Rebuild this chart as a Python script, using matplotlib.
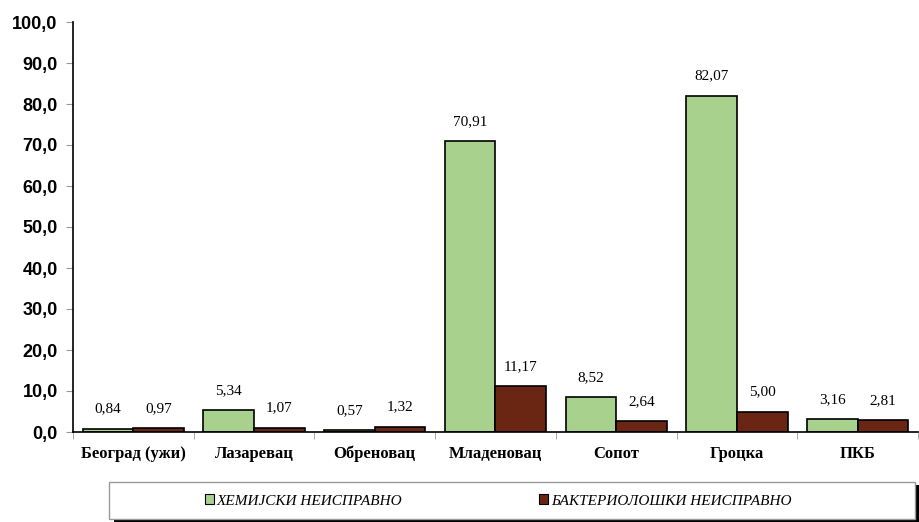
import numpy as np
import matplotlib.pyplot as plt
from matplotlib.patches import Rectangle

categories = ['Београд (ужи)', 'Лазаревац', 'Обреновац', 'Младеновац', 'Сопот', 'Гроцка', 'ПКБ']
chem = [0.84, 5.34, 0.57, 70.91, 8.52, 82.07, 3.16]
bact = [0.97, 1.07, 1.32, 11.17, 2.64, 5.00, 2.81]
series_names = ['ХЕМИЈСКИ НЕИСПРАВНО', 'БАКТЕРИОЛОШКИ НЕИСПРАВНО']

W, H = 920, 522
fig = plt.figure(figsize=(W / 100, H / 100), dpi=100)
ax = fig.add_axes([73 / W, 1 - 432 / H, 845 / W, 410 / H])

x = np.arange(len(categories))
w = 0.42
b1 = ax.bar(x - w / 2, chem, w, color='#A9D18E', edgecolor='black', linewidth=1.2, label=series_names[0])
b2 = ax.bar(x + w / 2, bact, w, color='#6B2513', edgecolor='black', linewidth=1.2, label=series_names[1])

def fmt(v):
    return f'{v:.2f}'.replace('.', ',')

for bars, vals in [(b1, chem), (b2, bact)]:
    for r, v in zip(bars, vals):
        ax.annotate(fmt(v), (r.get_x() + r.get_width() / 2, v), xytext=(0, 14),
                    textcoords='offset points', ha='center', va='center',
                    fontsize=11, family='Liberation Serif')

ax.set_xlim(-0.5, len(categories) - 0.5)
ax.set_ylim(0, 100)
ax.set_yticks(np.arange(0, 101, 10))
ax.set_yticklabels([f'{v:.1f}'.replace('.', ',') for v in np.arange(0, 101, 10)],
                   fontsize=13, fontweight='bold', family='Liberation Sans')
ax.tick_params(axis='y', length=5, color='#999999', pad=6)

ax.set_xticks(x)
ax.set_xticklabels(categories, fontsize=12, fontweight='bold', family='Liberation Serif')
ax.tick_params(axis='x', length=0, pad=10)
ax.set_xticks(np.arange(-0.5, len(categories), 1), minor=True)
ax.tick_params(axis='x', which='minor', length=5, color='#999999')

ax.spines['top'].set_visible(False)
ax.spines['right'].set_visible(False)
ax.spines['left'].set_linewidth(1.2)
ax.spines['bottom'].set_linewidth(1.2)

# legend box with hard black shadow
fx, fy, fw, fh = 109 / W, 1 - 519 / H, 806 / W, 37 / H
fig.patches.append(Rectangle((fx + 5 / W, fy - 3 / H), fw, fh, transform=fig.transFigure,
                             facecolor='black', edgecolor='none', zorder=0))
fig.patches.append(Rectangle((fx, fy), fw, fh, transform=fig.transFigure,
                             facecolor='white', edgecolor='#999999', linewidth=1, zorder=1))

leg = fig.legend(loc='center', bbox_to_anchor=(498 / W, 1 - 501 / H), ncol=2, frameon=False,
                 prop={'family': 'Liberation Serif', 'style': 'italic', 'size': 11},
                 handlelength=0.6, handleheight=0.6, handletextpad=0.15, columnspacing=9)
for h in leg.legend_handles:
    h.set_linewidth(0.8)

fig.savefig('out.png', dpi=100)
